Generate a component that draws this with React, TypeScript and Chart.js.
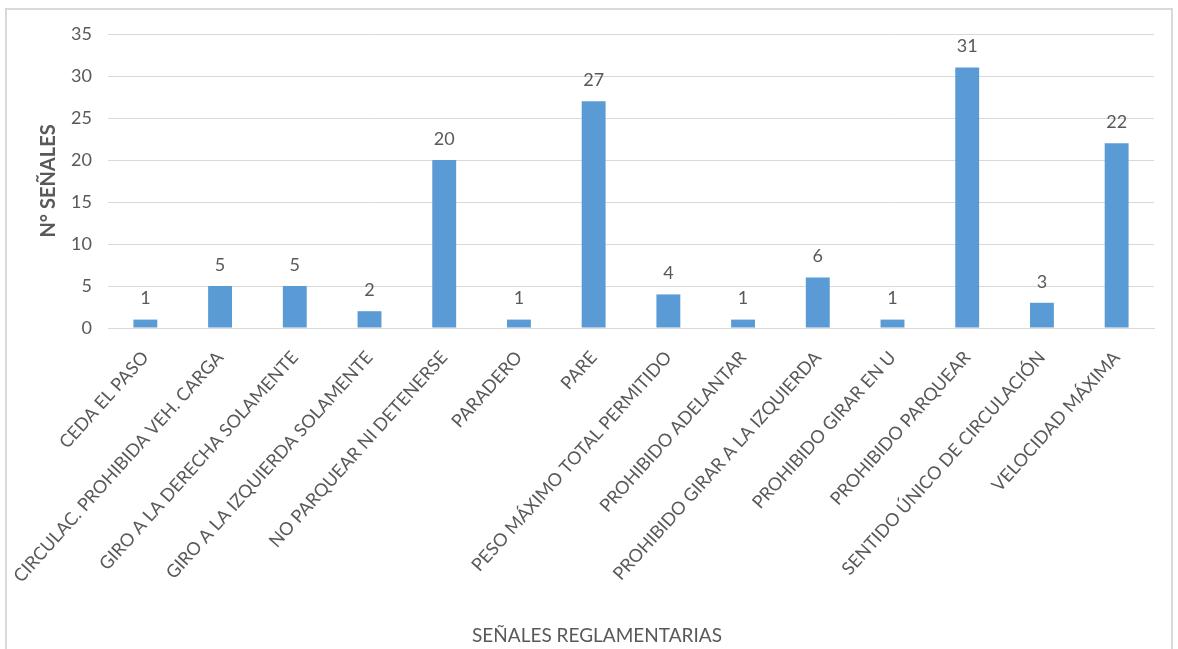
import React, { useEffect, useRef } from "react";
import { Chart, registerables } from "chart.js";

Chart.register(...registerables);

const categories = [
  "CEDA EL PASO",
  "CIRCULAC. PROHIBIDA VEH. CARGA",
  "GIRO A LA DERECHA SOLAMENTE",
  "GIRO A LA IZQUIERDA SOLAMENTE",
  "NO PARQUEAR NI DETENERSE",
  "PARADERO",
  "PARE",
  "PESO MÁXIMO TOTAL PERMITIDO",
  "PROHIBIDO ADELANTAR",
  "PROHIBIDO GIRAR A LA IZQUIERDA",
  "PROHIBIDO GIRAR EN U",
  "PROHIBIDO PARQUEAR",
  "SENTIDO ÚNICO DE CIRCULACIÓN",
  "VELOCIDAD MÁXIMA",
];
const values = [1, 5, 5, 2, 20, 1, 27, 4, 1, 6, 1, 31, 3, 22];
const yTicks = [0, 5, 10, 15, 20, 25, 30, 35];
const xTitle = "SEÑALES REGLAMENTARIAS";
const yTitle = "N° SEÑALES";

const FONT = "Lato, 'Open Sans', sans-serif";
const TEXT = "#595959";

const dataLabels = {
  id: "dataLabels",
  afterDatasetsDraw(chart: any) {
    const ctx = chart.ctx;
    const meta = chart.getDatasetMeta(0);
    ctx.save();
    ctx.fillStyle = TEXT;
    ctx.font = `18px ${FONT}`;
    ctx.textAlign = "center";
    ctx.textBaseline = "bottom";
    meta.data.forEach((el: any, i: number) => {
      ctx.fillText(String(values[i]), el.x, el.y - 12);
    });
    ctx.restore();
  },
};

const chartXTitle = {
  id: "chartXTitle",
  afterDraw(chart: any) {
    const ctx = chart.ctx;
    ctx.save();
    ctx.fillStyle = TEXT;
    ctx.font = `19px ${FONT}`;
    ctx.textAlign = "center";
    ctx.textBaseline = "middle";
    ctx.fillText(xTitle, chart.width / 2 + 8, chart.height - 13);
    ctx.restore();
  },
};

export default function App() {
  const ref = useRef<HTMLCanvasElement>(null);
  useEffect(() => {
    const chart = new Chart(ref.current!, {
      type: "bar",
      data: {
        labels: categories,
        datasets: [
          {
            data: values,
            backgroundColor: "#5b9bd5",
            categoryPercentage: 1,
            barPercentage: 0.32,
          },
        ],
      },
      options: {
        animation: false,
        responsive: false,
        layout: { padding: { left: 37, right: 24, top: 34, bottom: 0 } },
        plugins: { legend: { display: false }, tooltip: { enabled: false } },
        scales: {
          x: {
            grid: { display: false, drawTicks: false },
            border: { color: "#d9d9d9", width: 1 },
            ticks: {
              color: TEXT,
              font: { family: FONT, size: 18 },
              minRotation: 48,
              maxRotation: 48,
              autoSkip: false,
              padding: 19,
            },
            afterFit(scale: any) {
              scale.height = 321;
            },
          },
          y: {
            min: 0,
            max: 35,
            afterBuildTicks(scale: any) {
              scale.ticks = yTicks.map((v) => ({ value: v }));
            },
            grid: { color: "#d9d9d9", drawTicks: false },
            border: { display: false },
            ticks: {
              color: TEXT,
              font: { family: FONT, size: 18 },
              padding: 16,
            },
            title: {
              display: true,
              text: yTitle,
              color: TEXT,
              font: { family: FONT, size: 20, weight: "bold" },
              padding: { top: 0, bottom: 4 },
            },
            afterFit(scale: any) {
              scale.width = 71;
            },
          },
        },
      } as any,
      plugins: [dataLabels, chartXTitle],
    });
    return () => chart.destroy();
  }, []);
  return (
    <div style={{ position: "fixed", left: 0, top: 0, width: 1178, height: 649, background: "#fff" }}>
      <canvas ref={ref} width={1178} height={649} style={{ position: "absolute", left: 0, top: 0 }} />
      <div
        style={{
          position: "absolute",
          left: 5,
          top: 8,
          width: 1164,
          height: 660,
          border: "2px solid #d9d9d9",
          pointerEvents: "none",
        }}
      />
    </div>
  );
}
